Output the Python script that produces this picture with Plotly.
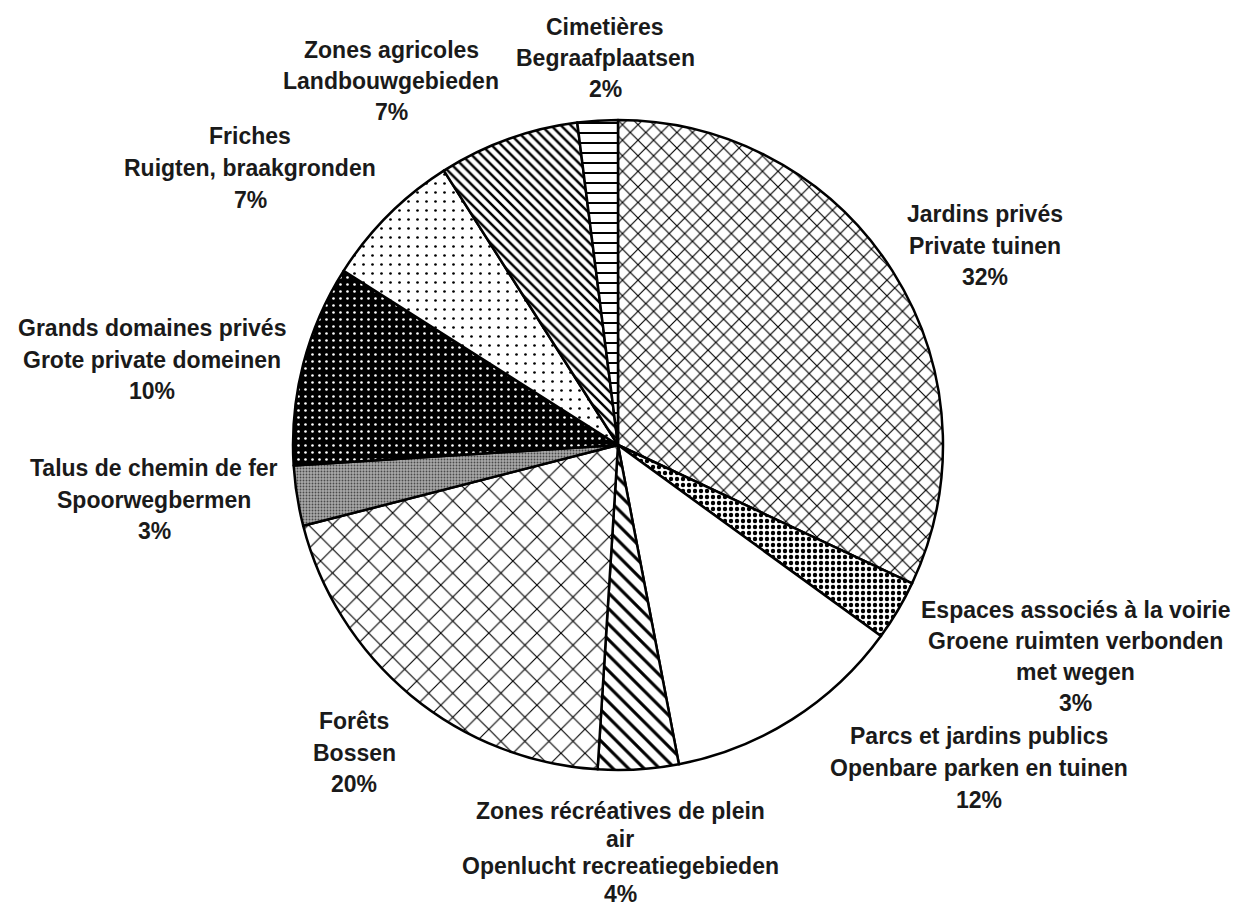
import plotly.graph_objects as go

# ---- data ----
categories = [
    "Jardins privés", "Espaces associés à la voirie", "Parcs et jardins publics",
    "Zones récréatives de plein air", "Forêts", "Talus de chemin de fer",
    "Grands domaines privés", "Friches", "Zones agricoles", "Cimetières",
]
values = [32, 3, 12, 4, 20, 3, 10, 7, 7, 2]
label_lines = [
    ["Jardins privés", "Private tuinen", "32%"],
    ["Espaces associés à la voirie", "Groene ruimten verbonden", "met wegen", "3%"],
    ["Parcs et jardins publics", "Openbare parken en tuinen", "12%"],
    ["Zones récréatives de plein", "air", "Openlucht recreatiegebieden", "4%"],
    ["Forêts", "Bossen", "20%"],
    ["Talus de chemin de fer", "Spoorwegbermen", "3%"],
    ["Grands domaines privés", "Grote private domeinen", "10%"],
    ["Friches", "Ruigten, braakgronden", "7%"],
    ["Zones agricoles", "Landbouwgebieden", "7%"],
    ["Cimetières", "Begraafplaatsen", "2%"],
]

# ---- styling (not data) ----
# (the html page body has an 8px margin, so figure px = screen px - 8)
W, H = 1242, 907
cx, cy, R = 610, 437, 325
label_pos = [  # (center x px, first line center y px, line gap)
    (977, 206, 31.5), (1067, 602, 31), (971, 728, 32), (612, 803, 27.5),
    (346, 713, 31.5), (146, 460, 31.5), (144, 320, 31.5), (242, 128, 32),
    (383, 42, 31), (597, 19, 31),
]

bg = ["white", "white", "white", "white", "white", "#a9a9a9", "black", "white", "white", "white"]
shapes = ["x", ".", "", "\\", "x", ".", ".", ".", "\\", "-"]
fg = ["black", "black", "black", "black", "black", "#4a4a4a", "white", "black", "black", "black"]
sizes = [11, 6, 8, 11, 17, 3, 7, 9, 7, 10]
solid = [0.2, 0.42, 0.1, 0.28, 0.13, 0.3, 0.11, 0.07, 0.35, 0.2]

fig = go.Figure(go.Pie(
    labels=categories,
    values=values,
    sort=False,
    direction="clockwise",
    rotation=0,
    textinfo="none",
    hoverinfo="label+percent",
    showlegend=False,
    marker=dict(
        colors=bg,
        line=dict(color="black", width=2.5),
        pattern=dict(shape=shapes, fgcolor=fg, bgcolor=bg, size=sizes,
                     solidity=solid, fillmode="replace"),
    ),
    domain=dict(x=[(cx - R) / W, (cx + R) / W],
                y=[(H - cy - R) / H, (H - cy + R) / H]),
))

annotations = []
for (x, y0, gap), lines in zip(label_pos, label_lines):
    for i, t in enumerate(lines):
        annotations.append(dict(
            text=t, x=x / W, y=1 - (y0 + i * gap) / H,
            xref="paper", yref="paper", xanchor="center", yanchor="middle",
            showarrow=False,
            font=dict(family="Liberation Sans, Arial, sans-serif", size=23,
                      color="#1a1a1a", weight="bold"),
        ))

fig.update_layout(
    width=W, height=H,
    margin=dict(l=0, r=0, t=0, b=0),
    paper_bgcolor="white", plot_bgcolor="white",
    annotations=annotations,
)
fig.write_html("out.html")
